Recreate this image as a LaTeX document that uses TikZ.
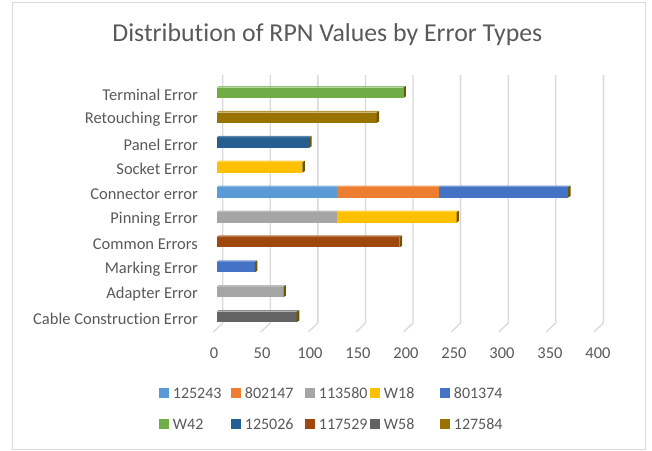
\documentclass[tikz,border=0pt]{standalone}
\usepackage{fontspec}
\setmainfont[Ligatures=NoCommon]{Carlito}

\definecolor{txtgray}{HTML}{595959}
\definecolor{gridgray}{HTML}{D9D9D9}
\definecolor{sidebrown}{HTML}{6E5600}
\definecolor{sA}{HTML}{5B9BD5}% 125243
\definecolor{sB}{HTML}{ED7D31}% 802147
\definecolor{sC}{HTML}{A5A5A5}% 113580
\definecolor{sD}{HTML}{FFC000}% W18
\definecolor{sE}{HTML}{4472C4}% 801374
\definecolor{sF}{HTML}{70AD47}% W42
\definecolor{sG}{HTML}{255E91}% 125026
\definecolor{sH}{HTML}{9E480E}% 117529
\definecolor{sI}{HTML}{636363}% W58
\definecolor{sJ}{HTML}{997300}% 127584

% bar segment: row, from, to, colour
\newcommand{\rpnseg}[4]{%
  \pgfmathsetmacro\yt{86+24.9*#1}
  \pgfmathsetmacro\xa{216.7+0.952*#2}
  \pgfmathsetmacro\xb{216.7+0.952*#3}
  \fill[#4] (\xa,\yt+1.6) rectangle (\xb,\yt+12);
  \fill[#4!75!white] (\xa,\yt+1.6) -- (\xa+2,\yt) -- (\xb+2,\yt) -- (\xb,\yt+1.6) -- cycle;
}
% right end of a bar: row, value
\newcommand{\rpnend}[2]{%
  \pgfmathsetmacro\yt{86+24.9*#1}
  \pgfmathsetmacro\xb{216.7+0.952*#2}
  \fill[sidebrown] (\xb,\yt+1.6) -- (\xb+2.6,\yt) -- (\xb+2.6,\yt+10.4) -- (\xb,\yt+12) -- cycle;
}

\begin{document}
\begin{tikzpicture}[x=1pt,y=-1pt,
        lbl/.style={text=txtgray, inner sep=0pt,
        font=\fontsize{16.5}{18}\selectfont},
        key/.style={fill=#1, minimum size=10pt, inner sep=0pt},
        ]
        \useasboundingbox (0,0) rectangle (652,450);
        \draw[gridgray, line width=1pt] (12,2) rectangle (645,449);

        \node (title) [lbl, anchor=base, font=\fontsize{25.8}{28}\selectfont] at (327.4,41.7)
            {Distribution of RPN Values by Error Types};

        % grid lines and floor
        \foreach \k in {0,...,8}{
            \pgfmathsetmacro\gx{222.7+47.58*\k}
            \draw[gridgray, line width=1.3pt] (\gx,75) -- (\gx,323) -- (\gx-9.4,332);
            \pgfmathtruncatemacro\tv{50*\k}
            \node (tick\k) [lbl] at (214+48*\k,353) {\tv};
        }

        % categories
        \foreach \name [count=\i from 0] in {Terminal Error,Retouching Error,Panel Error,
            Socket Error,Connector error,Pinning Error,Common Errors,Marking Error,
            Adapter Error,Cable Construction Error}{
            \node (cat\i) [lbl, anchor=east] at (198,{94.6+24.9*\i}) {\name};
        }

        % bars
        \rpnseg{0}{0}{196}{sF} \rpnend{0}{196}
        \rpnseg{1}{0}{168}{sJ} \rpnend{1}{168}
        \rpnseg{2}{0}{97}{sG}  \rpnend{2}{97}
        \rpnseg{3}{0}{90}{sD}  \rpnend{3}{90}
        \rpnseg{4}{0}{126}{sA} \rpnseg{4}{126}{233}{sB} \rpnseg{4}{233}{369}{sE} \rpnend{4}{369}
        \rpnseg{5}{0}{126}{sC} \rpnseg{5}{126}{252}{sD} \rpnend{5}{252}
        \rpnseg{6}{0}{192}{sH} \rpnend{6}{192}
        \rpnseg{7}{0}{40}{sE}  \rpnend{7}{40}
        \rpnseg{8}{0}{70}{sC}  \rpnend{8}{70}
        \rpnseg{9}{0}{84}{sI}  \rpnend{9}{84}

        % legend
        \foreach \kx/\ky/\kc/\kt [count=\j] in {159/393/sA/125243, 231/393/sB/802147,
            305/393/sC/113580, 370/393/sD/W18, 440/393/sE/801374,
            159/424/sF/W42, 231/424/sG/125026, 305/424/sH/117529,
            370/424/sI/W58, 440/424/sJ/127584}{
            \node (key\j) [key=\kc] at (\kx+5,\ky) {};
            \node (keytxt\j) [lbl, anchor=west, font=\fontsize{16}{18}\selectfont]
                at ([xshift=3.5pt]key\j.east) {\kt};
        }
\end{tikzpicture}
\end{document}
